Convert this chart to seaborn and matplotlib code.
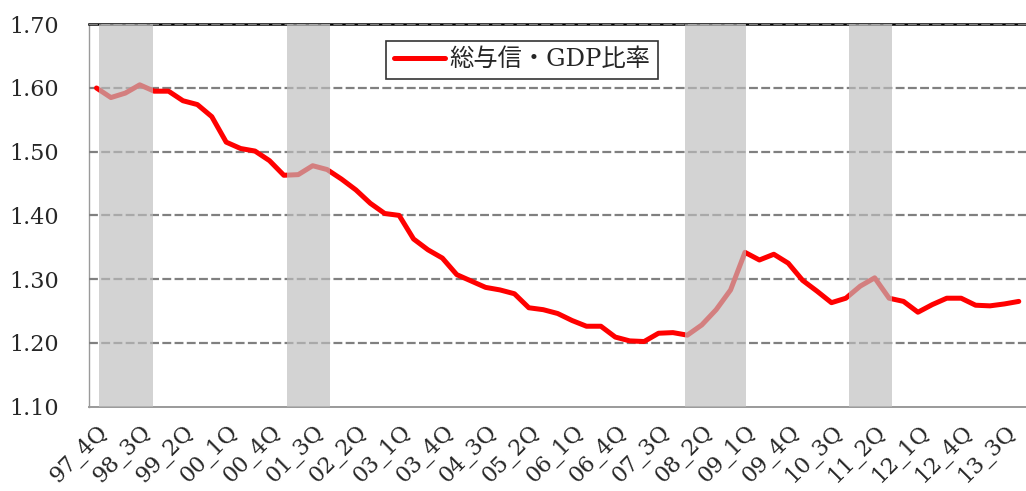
import matplotlib
matplotlib.use("Agg")
import matplotlib.pyplot as plt
import matplotlib.transforms as mtransforms
import seaborn as sns
import pandas as pd

quarters = [
    "97_4Q",
    "98_1Q", "98_2Q", "98_3Q", "98_4Q",
    "99_1Q", "99_2Q", "99_3Q", "99_4Q",
    "00_1Q", "00_2Q", "00_3Q", "00_4Q",
    "01_1Q", "01_2Q", "01_3Q", "01_4Q",
    "02_1Q", "02_2Q", "02_3Q", "02_4Q",
    "03_1Q", "03_2Q", "03_3Q", "03_4Q",
    "04_1Q", "04_2Q", "04_3Q", "04_4Q",
    "05_1Q", "05_2Q", "05_3Q", "05_4Q",
    "06_1Q", "06_2Q", "06_3Q", "06_4Q",
    "07_1Q", "07_2Q", "07_3Q", "07_4Q",
    "08_1Q", "08_2Q", "08_3Q", "08_4Q",
    "09_1Q", "09_2Q", "09_3Q", "09_4Q",
    "10_1Q", "10_2Q", "10_3Q", "10_4Q",
    "11_1Q", "11_2Q", "11_3Q", "11_4Q",
    "12_1Q", "12_2Q", "12_3Q", "12_4Q",
    "13_1Q", "13_2Q", "13_3Q", "13_4Q",
]

ratio = [
    1.600,
    1.585, 1.592, 1.605, 1.595,
    1.595, 1.580, 1.574, 1.555,
    1.515, 1.505, 1.501, 1.486,
    1.463, 1.464, 1.478, 1.472,
    1.457, 1.440, 1.419, 1.403,
    1.400, 1.363, 1.346, 1.333,
    1.307, 1.297, 1.287, 1.283,
    1.277, 1.255, 1.252, 1.246,
    1.235, 1.226, 1.226, 1.209,
    1.203, 1.202, 1.215, 1.216,
    1.212, 1.228, 1.252, 1.283,
    1.342, 1.330, 1.339, 1.325,
    1.298, 1.281, 1.263, 1.270,
    1.289, 1.302, 1.270, 1.265,
    1.248, 1.260, 1.270, 1.270,
    1.259, 1.258, 1.261, 1.265,
]

tick_labels = [
    "97_4Q", "98_3Q", "99_2Q", "00_1Q", "00_4Q", "01_3Q", "02_2Q", "03_1Q",
    "03_4Q", "04_3Q", "05_2Q", "06_1Q", "06_4Q", "07_3Q", "08_2Q", "09_1Q",
    "09_4Q", "10_3Q", "11_2Q", "12_1Q", "12_4Q", "13_3Q",
]

# recession periods (start, end) in quarter-index units
recession_start = [0.19, 13.22, 40.83, 52.20]
recession_end = [3.91, 16.21, 45.09, 55.19]

y_ticks = [1.10, 1.20, 1.30, 1.40, 1.50, 1.60, 1.70]
series_name = "総与信・GDP比率"

df = pd.DataFrame({"idx": range(len(quarters)), "quarter": quarters, "ratio": ratio})

sns.set_style("white")
plt.rcParams["font.family"] = ["DejaVu Serif", "Noto Sans CJK JP"]

fig = plt.figure(figsize=(10.26, 4.91), dpi=100)
ax = fig.add_axes([89.3 / 1026, 84.5 / 491, (1026 - 89.3) / 1026, (406.5 - 24.3) / 491])

# gridlines
for yv in y_ticks[1:]:
    ax.axhline(yv, color="#808080", lw=1.6, linestyle=(0, (4, 1.5)), zorder=2.6)

sns.lineplot(data=df, x="idx", y="ratio", ax=ax, color="#ff0000", lw=3.6,
             label=series_name, zorder=2.8, solid_capstyle="round",
             solid_joinstyle="round")

for s, e in zip(recession_start, recession_end):
    ax.axvspan(s, e, color=(190 / 255, 190 / 255, 190 / 255), alpha=0.675, lw=0, zorder=3)

ax.set_xlim(-0.5, 64.05)
ax.set_ylim(1.10, 1.70)
ax.set_xlabel("")
ax.set_ylabel("")

ax.set_yticks(y_ticks)
ax.set_yticklabels([f"{v:.2f}" for v in y_ticks], fontsize=16)
ax.tick_params(axis="y", length=0, pad=22)

label_pos = [quarters.index(t) for t in tick_labels]
ax.set_xticks(label_pos)
ax.set_xticklabels(tick_labels, fontsize=16, rotation=45, ha="right",
                   va="center", rotation_mode="anchor")
ax.tick_params(axis="x", which="major", length=0, pad=16)
ax.set_xticks([b - 0.5 for b in range(len(quarters) + 1)], minor=True)
ax.tick_params(axis="x", which="minor", direction="in", length=5,
               color="#a0a0a0", width=1.2)
offset = mtransforms.ScaledTranslation(8 / 100, 0, fig.dpi_scale_trans)
for lab in ax.get_xticklabels():
    lab.set_transform(lab.get_transform() + offset)

for side in ["left", "bottom"]:
    ax.spines[side].set_color("#9a9a9a")
ax.spines["left"].set_linewidth(1.0)
ax.spines["bottom"].set_linewidth(1.4)
ax.spines["top"].set_color("black")
ax.spines["top"].set_linewidth(1.8)
ax.spines["right"].set_visible(False)

leg = ax.legend(loc="center", bbox_to_anchor=(0.462, 0.907), fontsize=17.5,
                frameon=True, fancybox=False, edgecolor="black",
                handlelength=2.1, handletextpad=0.2, borderpad=0.3,
                borderaxespad=0)
leg.get_frame().set_linewidth(1.2)
leg.set_zorder(5)

fig.savefig("out.png", dpi=100)
